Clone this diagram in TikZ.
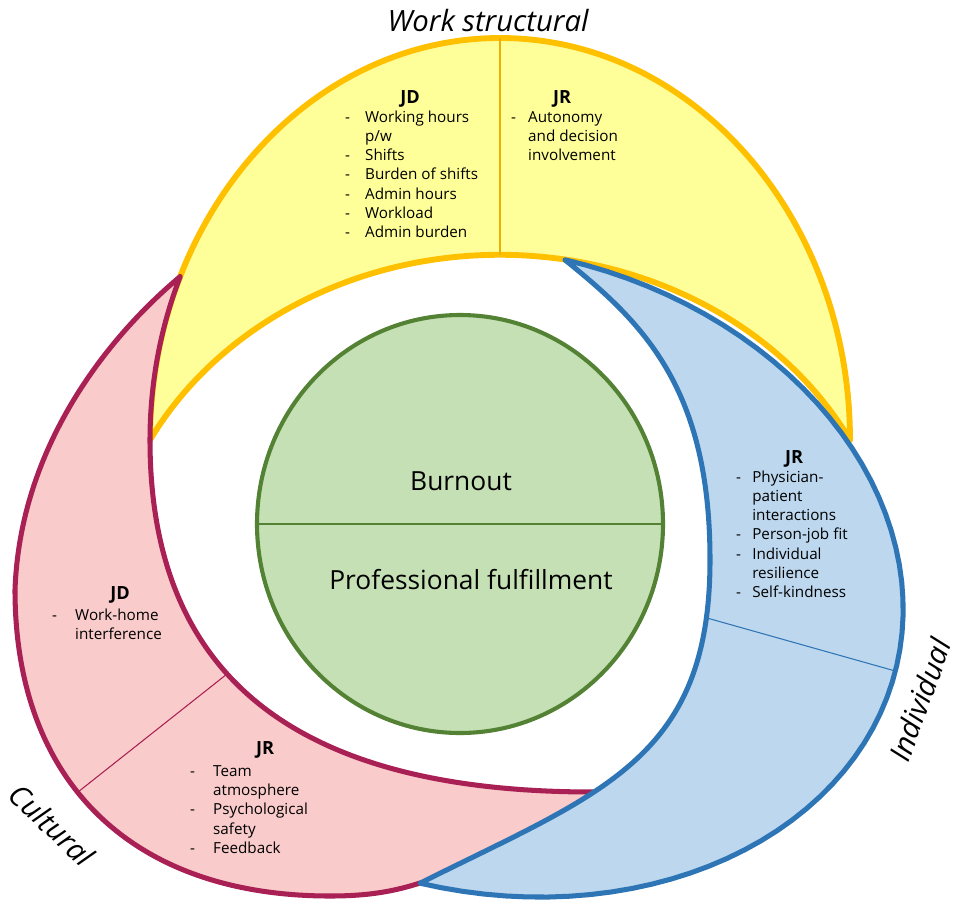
\documentclass[tikz,border=0pt]{standalone}
\usepackage{fontspec}
\setmainfont{Open Sans}

\definecolor{wk_gelb}{RGB}{255,255,153}
\definecolor{wk_gold}{RGB}{255,192,0}
\definecolor{wk_rosa}{RGB}{249,203,203}
\definecolor{wk_weinrot}{RGB}{168,32,84}
\definecolor{wk_hellblau}{RGB}{189,215,238}
\definecolor{wk_blau}{RGB}{46,117,182}
\definecolor{wk_hellgruen}{RGB}{197,224,180}
\definecolor{wk_gruen}{RGB}{84,130,53}

\newcommand{\punkte}[2]{\begin{tabular}[t]{@{}p{#1}@{}l@{}}#2\end{tabular}}

\begin{document}
\begin{tikzpicture}[
      x=0.03cm, y=-0.03cm,
      line join=round,
      declare function={
        bx(\t) = 492.5 + 72.5*cos(\t) + 404.2*sin(\t);
        by(\t) = 571.5 - 311.7*cos(\t) + 94.1*sin(\t);
      },
      kopf/.style={
        font=\fontsize{15.5}{18}\selectfont\bfseries,
        inner sep=0pt,
        anchor=base
      },
      liste/.style={
        font=\fontsize{13}{16.5}\selectfont,
        inner sep=0pt,
        anchor=base west
      },
      bereich/.style={font=\fontsize{25}{29}\selectfont\itshape, inner sep=0pt},
      mitte/.style={font=\fontsize{22.5}{26}\selectfont, inner sep=0pt},
      sichel/.style={line width=4.3pt},
      trenner/.style={line width=0.9pt}
    ]

      \useasboundingbox (0,0) rectangle (957,899);

      % Work structural
      \filldraw [sichel, line width=5pt, fill=wk_gelb, draw=wk_gold] (150,440)
        arc [start angle=180, end angle=360, x radius=350, y radius=402]
        arc [start angle=332.4, end angle=207.6, x radius=395, y radius=345] -- cycle;
      \coordinate (gelb_oben) at (500,38);
      \coordinate (gelb_unten) at (500,255);
      \draw [trenner, wk_gold!92!black] (gelb_oben) -- (gelb_unten);

      % Cultural
      \coordinate (rosa_spitze) at (180.3,276.5);
      \filldraw [sichel, fill=wk_rosa, draw=wk_weinrot] (rosa_spitze)
        .. controls (110,335) and (20,445) .. (15,590)
        .. controls (15,780) and (130,896) .. (330,896)
        .. controls (370,896) and (395,891) .. (420,883)
        -- (520,880) -- (640,840) -- (650,792) -- (593,792)
        .. controls (313,792) and (150,690) .. (150,440)
        arc [start angle=180, end angle=204, x radius=350, y radius=402] -- cycle;
      \coordinate (rosa_innen) at (227,674);
      \coordinate (rosa_aussen) at (78,792);
      \draw [trenner, wk_weinrot] (rosa_innen) -- (rosa_aussen);

      % Individual
      \filldraw [sichel, fill=wk_hellblau, draw=wk_blau]
        plot [domain=0:180, samples=61] ({bx(\x)}, {by(\x)})
        .. controls (600,793) and (710,760) .. (710,560)
        .. controls (710,390) and (645,324) .. (565,260) -- cycle;
      \coordinate (blau_innen) at (707,618);
      \coordinate (blau_aussen) at ({bx(91)}, {by(91)});
      \draw [trenner, wk_blau] (blau_innen) -- (blau_aussen);

      % Kreis
      \filldraw [line width=3.5pt, fill=wk_hellgruen, draw=wk_gruen] (460,524) ellipse [x radius=203, y radius=209];
      \coordinate (kreis_links) at (257,524);
      \coordinate (kreis_rechts) at (663,524);
      \draw [trenner, wk_gruen] (kreis_links) -- (kreis_rechts);

      \node (burnout) [mitte] at (461,481) {Burnout};
      \node (erfuellung) [mitte] at (471,580) {Professional fulfillment};

      % Bereiche
      \node (ws) [bereich] at (488,21) {Work structural};
      \node (ind) [bereich, rotate=70] at (920,700) {Individual};
      \node (kult) [bereich, rotate=-43] at (52,825) {Cultural};

      % Listen
      \node (ws_jd) [kopf] at (410,103) {JD};
      \node (ws_jd_liste) [liste] at (345,122) {\punkte{17pt}{- & Working hours\\ & p/w\\ - & Shifts\\ - & Burden of shifts\\ - & Admin hours\\ - & Workload\\ - & Admin burden}};
      \node (ws_jr) [kopf] at (562,103) {JR};
      \node (ws_jr_liste) [liste] at (511,122) {\punkte{14.5pt}{- & Autonomy\\ & and decision\\ & involvement}};

      \node (ind_jr) [kopf] at (794,463) {JR};
      \node (ind_jr_liste) [liste] at (736,482) {\punkte{13.7pt}{- & Physician-\\ & patient\\ & interactions\\ - & Person-job fit\\ - & Individual\\ & resilience\\ - & Self-kindness}};

      \node (kult_jd) [kopf] at (120,599) {JD};
      \node (kult_jd_liste) [liste] at (52,620) {\punkte{19.6pt}{- & Work-home\\ & interference}};
      \node (kult_jr) [kopf] at (265,754) {JR};
      \node (kult_jr_liste) [liste] at (190,776) {\punkte{19.6pt}{- & Team\\ & atmosphere\\ - & Psychological\\ & safety\\ - & Feedback}};
    \end{tikzpicture}
\end{document}
